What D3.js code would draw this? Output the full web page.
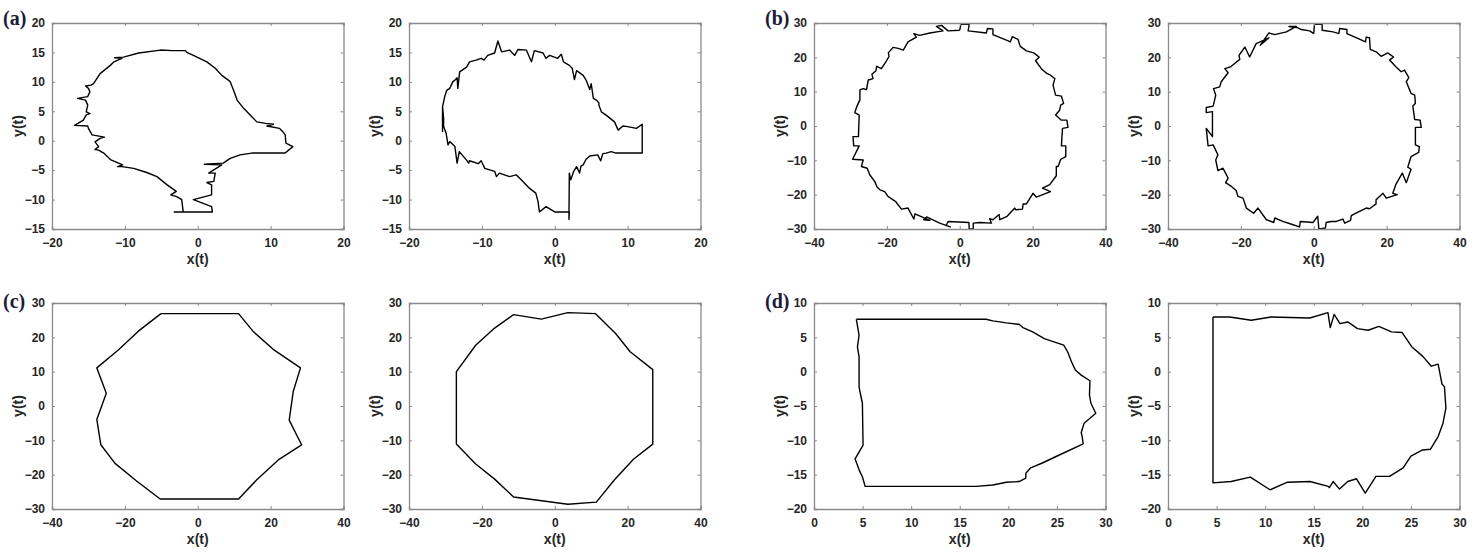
<!DOCTYPE html>
<html><head><meta charset="utf-8">
<script src="https://cdn.jsdelivr.net/npm/d3@7"></script>
<style>
html,body{margin:0;padding:0;background:#fff;}
svg{display:block;}
</style></head>
<body>
<svg id="chart" width="1478" height="556"></svg>
<script>
// ---- data ----
const trajA1 = [[-3.3,-12.1],[2.0,-12.1],[1.9,-11.2],[-0.6,-10.0],[1.9,-9.2],[1.9,-7.5],[1.25,-7.1],[2.2,-6.9],[2.4,-5.5],[1.5,-5.5],[3.3,-4.1],[0.9,-4.0],[3.5,-3.8],[4.45,-3.0],[5.8,-2.4],[7.4,-2.1],[12.0,-2.1],[13.05,-1.0],[12.1,-0.4],[12.0,1.0],[11.7,1.5],[11.2,2.1],[9.5,2.5],[10.4,2.8],[9.3,2.95],[8.1,3.2],[6.3,5.5],[5.4,6.9],[4.9,8.6],[4.45,10.0],[4.2,10.3],[3.3,11.1],[2.4,12.3],[1.25,13.4],[-0.6,14.5],[-1.5,15.0],[-1.7,15.3],[-3.5,15.3],[-5.1,15.4],[-8.1,14.9],[-10.2,14.2],[-11.4,14.1],[-10.4,14.0],[-11.5,13.4],[-12.0,12.8],[-13.4,11.4],[-14.3,9.7],[-14.65,9.45],[-15.4,9.3],[-15.0,8.9],[-14.8,8.3],[-15.1,7.5],[-16.5,7.2],[-15.4,6.9],[-15.1,6.05],[-15.3,4.9],[-14.8,4.6],[-15.3,4.4],[-15.7,3.5],[-16.9,2.6],[-15.1,2.5],[-15.0,2.1],[-14.5,1.0],[-12.8,0.6],[-13.4,0.4],[-14.1,-0.2],[-13.6,-1.0],[-14.1,-1.5],[-13.6,-1.6],[-12.9,-2.1],[-12.0,-3.2],[-10.3,-4.1],[-11.0,-4.4],[-10.4,-4.4],[-8.8,-4.7],[-7.0,-5.4],[-5.6,-6.1],[-4.2,-7.5],[-2.95,-8.6],[-3.7,-9.2],[-2.9,-9.5],[-2.2,-10.0],[-2.0,-12.1]];
const trajA2 = [[-15.4,1.5],[-15.4,5.8],[-15.25,6.6],[-15.1,7.5],[-14.8,8.6],[-14.4,8.9],[-14,10],[-13.6,10.4],[-13.4,10.7],[-13.3,8.9],[-13.05,11.7],[-12.1,12.5],[-11.7,13.4],[-10.8,13.7],[-10.1,14.0],[-9.7,13.7],[-9.2,14.5],[-8.25,14.9],[-7.8,16.95],[-7.3,15.1],[-6.2,15.4],[-5.5,14.5],[-5.05,15.5],[-3.9,15.4],[-3.2,13.4],[-2.8,15.3],[-1.6,14.9],[-1.2,14.0],[-0.7,14.5],[0.4,14.0],[0.9,14.7],[1.2,13.4],[2.0,12.8],[2.4,12.3],[2.7,10.4],[3.0,11.9],[3.9,11.1],[4.3,10.3],[4.8,8.7],[5.0,9.7],[5.3,7.2],[5.7,6.9],[6.05,6.45],[6.05,6.05],[6.4,4.9],[7.05,4.35],[8.2,3.2],[8.7,1.8],[9.35,2.5],[10,2.4],[11.2,2.1],[12,2.8],[12,-2.1],[8.4,-2.1],[7.75,-1.85],[7.05,-2.1],[6.6,-2.2],[6.3,-3.4],[5.9,-2.4],[4.8,-2.6],[4.3,-3.15],[3.9,-4.1],[3.6,-4.3],[3.4,-5.5],[3.0,-4.4],[2.6,-5.2],[2.2,-6.65],[2.0,-5.5],[1.95,-13.4],[2.0,-12.1],[0,-12.1],[-1.2,-11.2],[-2.1,-12.1],[-2.3,-10.3],[-2.6,-8.9],[-3.45,-8.1],[-4.6,-6.65],[-5.3,-5.8],[-6.2,-6.1],[-7.6,-5.5],[-8.0,-6.1],[-8.25,-5.2],[-9.6,-4.7],[-10.1,-3.4],[-10.5,-3.9],[-11.7,-3.4],[-11.8,-3.8],[-12.1,-3.3],[-13.1,-1.85],[-13.4,-3.8],[-13.7,-1.0],[-14.4,-0.15],[-14.65,-0.7],[-14.9,1.25],[-15.25,2.4],[-15.25,3.8],[-15.4,5.8]];
const trajB1 = [[0,27.9],[0.3,29.6],[2.6,29.6],[2.3,27.7],[7.3,27.1],[7.6,28.4],[9.1,28.3],[9.1,26.6],[13.3,24.8],[13.9,24.5],[14.4,26.0],[16.0,25.2],[16.6,23.2],[18.3,21.9],[20.3,21.3],[21.8,20.1],[20.8,19.0],[22.4,16.7],[23.9,15.3],[24.9,14.8],[26.1,13.8],[25.6,11.9],[26.3,9.0],[27.9,8.7],[28.5,6.6],[27.7,6.1],[27.4,4.6],[26.3,3.2],[27.9,1.7],[29.4,1.7],[29.7,-0.4],[28.2,-0.7],[27.9,-5.8],[29.1,-5.8],[29.1,-8.9],[27.7,-9.7],[27.0,-11.8],[26.5,-11.8],[26.5,-14.5],[24.7,-17.1],[22.7,-18.1],[24.9,-19.1],[21.0,-20.7],[20.1,-19.6],[18.3,-22.7],[17.4,-22.7],[17.2,-24.2],[15.4,-24.4],[15.1,-23.9],[13.0,-26.3],[11.0,-27.3],[10.8,-25.8],[9.1,-27.3],[8.2,-27.0],[8.7,-28.3],[5.5,-28.1],[3.7,-28.3],[3.7,-30.0],[2.6,-30.0],[2.5,-28.1],[-3.2,-27.8],[-3.7,-29.0],[-2.6,-29.4],[-5.5,-28.3],[-9.1,-26.5],[-9.9,-27.3],[-8.2,-27.5],[-12.3,-25.6],[-12.6,-27.1],[-14.2,-23.9],[-16.0,-24.2],[-17.6,-22.0],[-18.3,-21.5],[-19.7,-20.5],[-20.6,-19.1],[-21.9,-18.6],[-22.7,-17.8],[-23.3,-16.2],[-24.7,-14.2],[-25.4,-12.3],[-27.0,-11.8],[-26.5,-9.9],[-29.4,-9.7],[-27.6,-5.8],[-29.1,-5.8],[-29.3,-3.1],[-27.8,-3.1],[-27.6,3.2],[-28.8,3.9],[-28.2,5.8],[-27.4,7.6],[-27.4,10.5],[-26.5,10.9],[-25.6,10.6],[-25.1,13.4],[-23.8,13.8],[-24.1,15.1],[-23.0,16.1],[-22.8,17.4],[-21.5,16.7],[-20.1,19.0],[-19.4,20.3],[-19.6,21.3],[-18.3,22.9],[-16.9,22.6],[-15.5,22.1],[-14.2,24.5],[-11.9,25.9],[-12.6,26.9],[-11.0,26.4],[-8.2,27.1],[-4.6,27.7],[-6.4,29.0],[-5.0,29.3],[-3.2,27.7],[0,27.9]];
const trajB2 = [[0,26.9],[0.2,29.6],[2.3,29.6],[2.3,27.9],[5.3,27.4],[6.9,26.9],[7.1,28.4],[9.1,28.1],[9.1,26.9],[12.1,25.5],[14.2,24.5],[14.4,25.9],[15.3,25.7],[15.5,22.3],[17.1,21.6],[18.5,20.3],[20.3,21.3],[21.9,20.1],[20.8,19.2],[22.6,17.2],[24.0,15.8],[24.9,16.3],[26.1,14.1],[25.4,12.9],[26.7,9.5],[27.7,9.0],[27.9,6.6],[27.2,5.8],[27.7,1.9],[29.2,1.7],[29.5,-0.4],[27.9,-0.4],[27.9,-5.5],[29.0,-6.0],[28.8,-7.7],[26.7,-8.9],[25.8,-12.0],[26.7,-12.6],[25.4,-16.5],[24.3,-13.7],[22.5,-17.1],[21.7,-19.6],[22.9,-20.0],[19.9,-21.0],[19.0,-19.6],[17.1,-21.5],[17.1,-22.7],[15.3,-24.1],[14.4,-23.9],[11.6,-25.4],[10.3,-26.1],[10.1,-27.5],[8.5,-28.3],[8.0,-27.1],[6.2,-27.8],[4.8,-27.8],[3.4,-28.1],[3.2,-29.7],[1.4,-30.0],[1.1,-26.3],[-0.2,-28.1],[-3.7,-27.8],[-3.9,-29.4],[-5.9,-28.7],[-8.5,-27.8],[-10.7,-26.8],[-11.0,-28.1],[-13.0,-27.3],[-15.3,-23.9],[-16.5,-25.4],[-18.5,-23.9],[-19.4,-21.0],[-20.8,-20.5],[-21.3,-18.8],[-22.6,-17.6],[-24.2,-16.5],[-23.5,-15.2],[-24.9,-12.3],[-26.3,-13.0],[-26.9,-9.9],[-26.3,-8.4],[-27.6,-5.5],[-29.0,-5.8],[-29.5,-0.7],[-27.8,-3.1],[-27.8,4.2],[-29.5,3.9],[-29.5,5.4],[-27.6,5.8],[-26.9,9.0],[-27.5,10.9],[-25.8,11.4],[-25.4,12.9],[-23.5,15.5],[-24.4,16.7],[-22.9,17.2],[-20.3,19.4],[-20.5,20.6],[-18.9,23.0],[-17.6,20.1],[-15.8,24.0],[-12.3,25.7],[-14.7,23.5],[-12.3,27.1],[-10.7,26.6],[-7.5,27.4],[-4.8,29.0],[-6.8,29.0],[-4.6,28.7],[-3.4,28.1],[-1.1,27.7],[0,26.9]];
const trajC1 = [[-10.1,26.9],[11.2,26.9],[15.3,21.6],[20.7,16.5],[28.2,11.1],[26.2,4.2],[25.1,-4.1],[28.5,-11.3],[22.1,-15.7],[16.2,-21.5],[11.2,-27.1],[-10.3,-27.1],[-16.7,-21.9],[-22.7,-16.7],[-26.6,-11.3],[-27.7,-3.9],[-25.1,3.7],[-27.7,11.1],[-21.8,16.3],[-16.3,21.8],[-10.1,26.9]];
const trajC2 = [[-11.3,26.6],[-3.7,25.3],[3.6,27.2],[11.2,26.9],[16.7,21.1],[20.7,15.8],[26.9,10.6],[26.9,-11.1],[21.6,-15.5],[16.4,-21.5],[11.4,-28.0],[3.6,-28.6],[-11.3,-26.5],[-16.5,-21.3],[-21.7,-16.9],[-27.0,-11.1],[-27.0,10.0],[-21.7,17.7],[-16.5,22.7],[-11.3,26.6]];
const trajD1 = [[4.36,7.63],[17.7,7.63],[18.4,7.39],[19.8,7.1],[21.1,6.9],[21.5,6.42],[22.5,5.8],[23.7,4.82],[25.7,3.86],[26.1,2.9],[26.5,1.45],[26.9,0.23],[27.5,-0.5],[28.4,-1.32],[28.35,-3.4],[28.5,-4.6],[29.0,-6.06],[27.8,-7.5],[27.5,-8.9],[27.6,-9.45],[27.7,-10.5],[25.3,-12.1],[23.5,-13.3],[22.3,-14.0],[21.8,-14.8],[21.8,-15.5],[21.1,-16.0],[19.8,-16.1],[18.4,-16.5],[16.7,-16.7],[5.26,-16.7],[4.98,-15.3],[4.64,-14.3],[4.23,-12.7],[5.05,-10.7],[4.98,-4.6],[4.8,-3.4],[4.64,-2.2],[4.64,2.16],[4.47,3.6],[4.64,5.3],[4.36,7.63]];
const trajD2 = [[4.63,7.97],[6.34,7.97],[8.57,7.48],[10.6,7.97],[14.6,7.82],[16.46,8.6],[16.7,6.42],[17.1,8.35],[17.7,7.0],[18.5,7.24],[19.5,6.27],[20.6,6.03],[21.7,6.6],[23.0,5.8],[24.1,5.7],[25.1,3.6],[26.2,2.26],[27.1,0.8],[27.8,1.1],[28.2,-1.8],[28.45,-2.2],[28.6,-5.3],[28.3,-7.5],[27.8,-9.45],[27.0,-11.3],[26.2,-11.4],[25.0,-12.3],[24.2,-14.0],[22.8,-15.25],[21.4,-15.25],[20.3,-17.7],[19.4,-15.6],[18.5,-16.0],[17.65,-17.1],[17.0,-16.0],[16.6,-16.9],[16.5,-16.7],[14.6,-16.0],[12.3,-16.1],[10.5,-17.2],[8.47,-15.35],[6.5,-16.0],[4.63,-16.2],[4.63,7.97]];

const ticksA_x = [-20,-10,0,10,20];
const ticksA_y = [-15,-10,-5,0,5,10,15,20];
const ticksBC_x = [-40,-20,0,20,40];
const ticksBC_y = [-30,-20,-10,0,10,20,30];
const ticksD_x = [0,5,10,15,20,25,30];
const ticksD_y = [-20,-15,-10,-5,0,5,10];
const panelLetters = ["(a)","(b)","(c)","(d)"];
const xLabel = "x(t)", yLabel = "y(t)";

// ---- layout ----
const svg = d3.select("#chart");
const PW = 291.5, PH = 206;
const lefts = [52, 409, 814, 1168];
const tops = [23, 303];

const panels = [
  {d:trajA1, col:0,row:0, xd:[-20,20], yd:[-15,20], xt:ticksA_x, yt:ticksA_y},
  {d:trajA2, col:1,row:0, xd:[-20,20], yd:[-15,20], xt:ticksA_x, yt:ticksA_y},
  {d:trajB1, col:2,row:0, xd:[-40,40], yd:[-30,30], xt:ticksBC_x, yt:ticksBC_y},
  {d:trajB2, col:3,row:0, xd:[-40,40], yd:[-30,30], xt:ticksBC_x, yt:ticksBC_y},
  {d:trajC1, col:0,row:1, xd:[-40,40], yd:[-30,30], xt:ticksBC_x, yt:ticksBC_y},
  {d:trajC2, col:1,row:1, xd:[-40,40], yd:[-30,30], xt:ticksBC_x, yt:ticksBC_y},
  {d:trajD1, col:2,row:1, xd:[0,30], yd:[-20,10], xt:ticksD_x, yt:ticksD_y},
  {d:trajD2, col:3,row:1, xd:[0,30], yd:[-20,10], xt:ticksD_x, yt:ticksD_y},
];

const boxColor = "#8a8a8a", textColor = "#262626";
const tickFont = "bold 12px 'Liberation Sans', Arial, sans-serif";

panels.forEach((p,i)=>{
  const L = lefts[p.col], T = tops[p.row];
  const g = svg.append("g").attr("transform",`translate(${L},${T})`);
  const x = d3.scaleLinear().domain(p.xd).range([0,PW]);
  const y = d3.scaleLinear().domain(p.yd).range([PH,0]);

  g.append("path").datum(p.d)
    .attr("d", d3.line().x(d=>x(d[0])).y(d=>y(d[1])))
    .attr("fill","none").attr("stroke","#000").attr("stroke-width",1.4)
    .attr("stroke-linejoin","round");

  const tl = 3;
  const bottom = g.append("g").attr("transform",`translate(0,${PH})`)
    .call(d3.axisBottom(x).tickValues(p.xt).tickSize(-tl).tickPadding(8).tickFormat(d3.format("d")));
  const top = g.append("g")
    .call(d3.axisTop(x).tickValues(p.xt).tickSize(-tl).tickFormat(""));
  const left = g.append("g")
    .call(d3.axisLeft(y).tickValues(p.yt).tickSize(-tl).tickPadding(7).tickFormat(d3.format("d")));
  const right = g.append("g").attr("transform",`translate(${PW},0)`)
    .call(d3.axisRight(y).tickValues(p.yt).tickSize(-tl).tickFormat(""));
  [bottom,top,left,right].forEach(a=>{
    a.select(".domain").attr("stroke",boxColor).attr("stroke-width",1.3);
    a.selectAll(".tick line").attr("stroke",boxColor).attr("stroke-width",1);
    a.selectAll(".tick text").attr("fill",textColor).style("font",tickFont);
  });
  bottom.selectAll(".tick text").attr("dy","0.82em");

  g.append("text").attr("x",PW/2).attr("y",PH+35)
    .attr("text-anchor","middle").attr("fill",textColor)
    .style("font","bold 14px 'Liberation Sans', Arial, sans-serif").text(xLabel);
  g.append("text").attr("transform",`translate(-33,${PH/2}) rotate(-90)`)
    .attr("text-anchor","middle").attr("dominant-baseline","middle").attr("fill",textColor)
    .style("font","bold 14px 'Liberation Sans', Arial, sans-serif").text(yLabel);

  if (p.col===0 || p.col===2) {
    const li = p.row*2 + (p.col===2?1:0);
    g.append("text").attr("x",-49).attr("y", p.row===0 ? 2 : 5)
      .attr("fill","#1b1b3a").style("font","bold 20px 'Liberation Serif', 'Times New Roman', serif")
      .text(panelLetters[li]);
  }
});
</script>
</body></html>
